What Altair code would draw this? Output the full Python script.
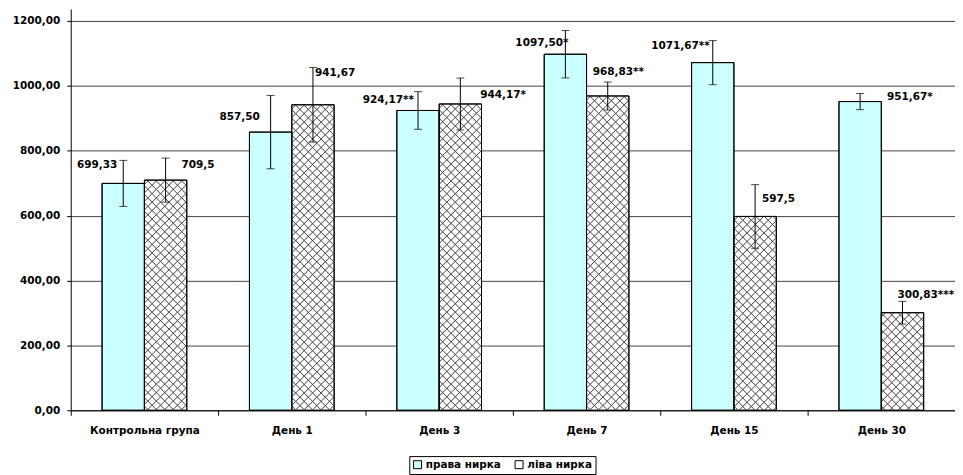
import altair as alt
import pandas as pd

# ---------------- data ----------------
categories = ["Контрольна група", "День 1", "День 3", "День 7", "День 15", "День 30"]
series_names = ["права нирка", "ліва нирка"]
right_values = [699.33, 857.50, 924.17, 1097.50, 1071.67, 951.67]
left_values = [709.5, 941.67, 944.17, 968.83, 597.5, 300.83]
right_err = [71, 113, 58, 73, 68, 25]
left_err = [68, 115, 80, 43, 98, 35]
right_labels = ["699,33", "857,50", "924,17**", "1097,50*", "1071,67**", "951,67*"]
left_labels = ["709,5", "941,67", "944,17*", "968,83**", "597,5", "300,83***"]
y_ticks = [0, 200, 400, 600, 800, 1000, 1200]

# ---------------- style / layout ----------------
FONT = "DejaVu Sans"
FS = 10.5
PLOT_W = 888
PLOT_H = 403
Y_MAX = 1237
STEP = PLOT_W / len(categories)
PAD_OUT = 0.74
BAR_W = STEP / (2 + 2 * PAD_OUT)
CYAN = "#ccffff"
INK = "#4d4d4d"
CLEAR = "rgba(77,77,77,0)"
PERIOD = 8.5
LINE_HALF = 1.1

# label placement (align, dx, dy) relative to the error-bar top
right_label_style = [("right", -6, 5), ("right", -11, 22), ("right", -4, 8),
                     ("right", 3, 13), ("right", -3, 5), ("left", 27, 4)]
left_label_style = [("left", 16, 7), ("left", 2, 6), ("left", 20, 17),
                    ("left", -15, -10), ("left", 7, 14), ("left", -5, -6)]

rows = []
for i, c in enumerate(categories):
    rows.append(dict(cat=c, series=series_names[0], value=right_values[i],
                     lo=right_values[i] - right_err[i], hi=right_values[i] + right_err[i],
                     label=right_labels[i], idx=i))
    rows.append(dict(cat=c, series=series_names[1], value=left_values[i],
                     lo=left_values[i] - left_err[i], hi=left_values[i] + left_err[i],
                     label=left_labels[i], idx=i))
df = pd.DataFrame(rows)


def x_enc():
    return alt.X("cat:N", sort=categories,
                 scale=alt.Scale(domain=categories, paddingInner=0, paddingOuter=0),
                 axis=alt.Axis(title=None, labelAngle=0, labelFont=FONT, labelFontSize=FS,
                               labelFontWeight="bold", labelColor="black", tickBand="extent",
                               tickSize=5, tickColor="black", domainColor="black",
                               labelPadding=10, grid=False))


def xo_enc():
    return alt.XOffset("series:N", sort=series_names,
                       scale=alt.Scale(domain=series_names, paddingInner=0, paddingOuter=PAD_OUT))


def y_enc(field):
    return alt.Y(f"{field}:Q",
                 scale=alt.Scale(domain=[0, Y_MAX], nice=False, zero=True),
                 axis=alt.Axis(title=None, values=y_ticks, grid=True, gridColor="#444444",
                               gridWidth=1, tickSize=4, tickColor="black", domainColor="black",
                               labelPadding=7, labelFont=FONT, labelFontSize=FS,
                               labelFontWeight="bold", labelColor="black",
                               labelExpr="replace(format(datum.value, '.2f'), '.', ',')"))


def hatch_gradient(W, H, flip):
    total = W + H
    k = total / (W * W + H * H)
    if flip:
        x1, y1, x2, y2 = 0, 1, k * W, 1 - k * H
    else:
        x1, y1, x2, y2 = 0, 0, k * W, k * H
    stops = [{"offset": 0, "color": CLEAR}]
    last = 0.0
    c = PERIOD / 2
    while c - LINE_HALF < total:
        for off, col in (((c - LINE_HALF) / total, CLEAR), (c / total, INK),
                         ((c + LINE_HALF) / total, CLEAR)):
            if 0 <= off <= 1 and off >= last:
                stops.append({"offset": round(off, 6), "color": col})
                last = off
        c += PERIOD
    stops.append({"offset": 1, "color": CLEAR})
    return {"gradient": "linear", "x1": x1, "y1": y1, "x2": x2, "y2": y2, "stops": stops}


layers = []

# base bars (with legend)
base = alt.Chart(df).mark_bar(stroke="black", strokeWidth=1).encode(
    x=x_enc(), xOffset=xo_enc(), y=y_enc("value"),
    fill=alt.Fill("series:N", sort=series_names,
                  scale=alt.Scale(domain=series_names, range=[CYAN, "#ffffff"]),
                  legend=alt.Legend(title=None, orient="none", legendX=340, legendY=449,
                                    direction="horizontal", symbolType="square", symbolSize=64,
                                    symbolStrokeColor="black", symbolStrokeWidth=1,
                                    labelFont=FONT, labelFontSize=FS, labelFontWeight="bold",
                                    labelColor="black", strokeColor="black", padding=3,
                                    columnPadding=11, labelOffset=3)),
)
layers.append(base)

# crosshatch on the left-kidney bars
for i, c in enumerate(categories):
    sub = df[(df["series"] == series_names[1]) & (df["cat"] == c)]
    H = left_values[i] * PLOT_H / Y_MAX
    for flip in (False, True):
        layers.append(
            alt.Chart(sub).mark_bar(fill=hatch_gradient(BAR_W, H, flip)).encode(
                x=x_enc(), xOffset=xo_enc(), y=y_enc("value"))
        )

# outlines on top
layers.append(
    alt.Chart(df).mark_bar(fillOpacity=0, stroke="black", strokeWidth=1).encode(
        x=x_enc(), xOffset=xo_enc(), y=y_enc("value"))
)

# error bars
layers.append(
    alt.Chart(df).mark_rule(color="black", strokeWidth=1).encode(
        x=x_enc(), xOffset=xo_enc(), y=y_enc("lo"), y2="hi:Q")
)
for f in ("lo", "hi"):
    layers.append(
        alt.Chart(df).mark_tick(color="black", size=8, thickness=1).encode(
            x=x_enc(), xOffset=xo_enc(), y=y_enc(f))
    )

# value labels
for s_idx, styles in ((0, right_label_style), (1, left_label_style)):
    for i, c in enumerate(categories):
        align, dx, dy = styles[i]
        sub = df[(df["series"] == series_names[s_idx]) & (df["cat"] == c)]
        layers.append(
            alt.Chart(sub).mark_text(align=align, baseline="middle", dx=dx, dy=dy, font=FONT,
                                     fontSize=FS, fontWeight="bold", color="black").encode(
                x=x_enc(), xOffset=xo_enc(), y=y_enc("hi"), text="label:N")
        )

chart = alt.layer(*layers).properties(
    width=PLOT_W, height=PLOT_H,
    autosize=alt.AutoSizeParams(type="none"),
    padding={"left": 63, "top": 0, "right": 0, "bottom": 64},
    background="white",
).configure_view(stroke=None)

chart.save("out.html", embed_options={"renderer": "svg", "actions": False})
